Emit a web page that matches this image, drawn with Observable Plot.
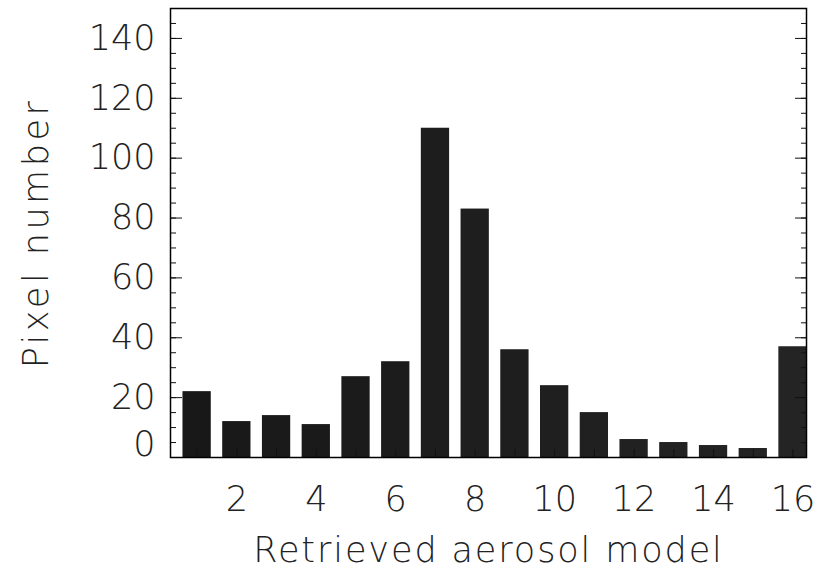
<!DOCTYPE html>
<html>
<head>
<meta charset="utf-8">
<script src="https://cdn.jsdelivr.net/npm/d3@7"></script>
<script src="https://cdn.jsdelivr.net/npm/@observablehq/plot@0.6"></script>
<style>
  html, body { margin: 0; padding: 0; background: #fff; }
  #chart svg { display: block; }
</style>
</head>
<body>
<div id="chart"></div>
<script>
// Histogram of retrieved aerosol model per pixel
const models = [1, 2, 3, 4, 5, 6, 7, 8, 9, 10, 11, 12, 13, 14, 15, 16];
const counts = [22, 12, 14, 11, 27, 32, 110, 83, 36, 24, 15, 6, 5, 4, 3, 37];
const xTickLabels = [2, 4, 6, 8, 10, 12, 14, 16];
const yTickLabels = [20, 40, 60, 80, 100, 120, 140];
const yMinorTicks = d3.range(0, 151, 5);
const xTitle = "Retrieved aerosol model";
const yTitle = "Pixel number";

const data = models.map((m, i) => ({model: m, count: counts[i]}));
const halfBar = 0.356;
const font = "'DejaVu Sans', sans-serif";
const ink = "#222";
const tickInk = "#111";

// tick-only axis (no labels, no title)
const ticksOnly = (opts) => ({tickFormat: () => "", label: null, stroke: tickInk, ...opts});

const chart = Plot.plot({
  width: 829,
  height: 568,
  marginLeft: 170,
  marginRight: 23,
  marginTop: 8,
  marginBottom: 111,
  x: {domain: [0.33, 16.34], axis: null},
  y: {domain: [0, 150], axis: null},
  style: {background: "#fff", fontFamily: font, fontWeight: 200},
  marks: [
    Plot.rectY(data, {
      x1: d => d.model - halfBar,
      x2: d => d.model + halfBar,
      y1: 0,
      y2: "count",
      fill: d => d3.interpolateRgb("#181818", "#242424")((d.model - 1) / 15)
    }),
    // inward ticks along the bottom
    Plot.axisX(ticksOnly({ticks: models, tickSize: 8, dy: -8})),
    Plot.axisX({ticks: xTickLabels, tickSize: 0, tickPadding: 29, fontSize: 35, fill: ink, label: null}),
    // inward ticks on left and right edges
    Plot.axisY(ticksOnly({ticks: yMinorTicks, tickSize: 6, dx: 6})),
    Plot.axisY(ticksOnly({ticks: [0, ...yTickLabels], tickSize: 12, dx: 12})),
    Plot.axisY(ticksOnly({anchor: "right", ticks: yMinorTicks, tickSize: 6, dx: -6})),
    Plot.axisY(ticksOnly({anchor: "right", ticks: [0, ...yTickLabels], tickSize: 12, dx: -12})),
    Plot.axisY({ticks: yTickLabels, tickSize: 0, tickPadding: 15, fontSize: 35, fill: ink, label: null}),
    Plot.axisY({ticks: [0], tickSize: 0, tickPadding: 15, dy: -13, fontSize: 35, fill: ink, label: null}),
    Plot.frame({stroke: "#000", strokeWidth: 1.5}),
    Plot.text([xTitle], {
      frameAnchor: "bottom", dy: 104, fontSize: 35, fill: ink, lineAnchor: "bottom", textAnchor: "middle"
    }),
    Plot.text([yTitle], {
      frameAnchor: "left", dx: -134, rotate: -90, fontSize: 35, fill: ink, textAnchor: "middle"
    })
  ]
});

// widen the titles' letter spacing
d3.select(chart).selectAll("text").each(function () {
  const t = this.textContent;
  if (t === xTitle) this.style.letterSpacing = "1.9px";
  if (t === yTitle) this.style.letterSpacing = "3.5px";
});

document.getElementById("chart").appendChild(chart);
</script>
</body>
</html>
